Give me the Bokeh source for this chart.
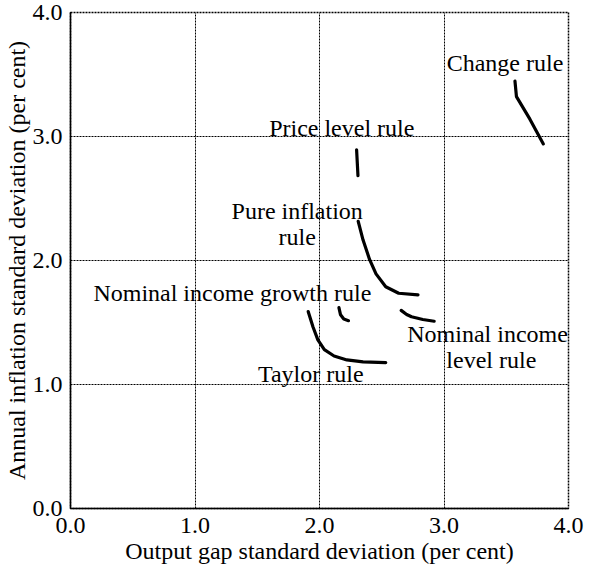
from bokeh.plotting import figure
from bokeh.models import FixedTicker, PrintfTickFormatter, ColumnDataSource, LabelSet
from bokeh.embed import file_html
from bokeh.resources import INLINE

# --- data ---
change_x = [3.570, 3.582, 3.690, 3.798]
change_y = [3.446, 3.322, 3.140, 2.940]

price_x = [2.298, 2.309]
price_y = [2.893, 2.685]

pure_x = [2.311, 2.350, 2.402, 2.454, 2.532, 2.636, 2.791]
pure_y = [2.316, 2.165, 2.009, 1.892, 1.788, 1.736, 1.723]

nig_x = [2.156, 2.169, 2.195, 2.233]
nig_y = [1.620, 1.562, 1.528, 1.515]

nil_x = [2.656, 2.700, 2.739, 2.830, 2.921]
nil_y = [1.598, 1.565, 1.546, 1.524, 1.510]

taylor_x = [1.909, 1.948, 1.987, 2.039, 2.117, 2.220, 2.350, 2.532]
taylor_y = [1.588, 1.464, 1.360, 1.281, 1.230, 1.198, 1.183, 1.177]

label_text = ["Change rule", "Price level rule", "Pure inflation", "rule",
              "Nominal income growth rule", "Nominal income", "level rule", "Taylor rule"]
label_x = [3.490, 2.179, 1.821, 1.821, 1.300, 3.350, 3.380, 1.930]
label_y = [3.594, 3.072, 2.402, 2.191, 1.739, 1.411, 1.201, 1.084]

ticks = [0, 1, 2, 3, 4]

FONT = "Liberation Serif"
FS = "24px"

p = figure(width=584, height=568, x_range=(0, 4), y_range=(0, 4),
           output_backend="svg", toolbar_location=None,
           min_border_left=60, min_border_right=16, min_border_top=12, min_border_bottom=60)

p.background_fill_color = "white"
p.border_fill_color = "white"
p.outline_line_color = "black"
p.outline_line_dash = "2 1"
p.outline_line_width = 1.5

for ax in (p.xaxis, p.yaxis):
    ax.ticker = FixedTicker(ticks=ticks)
    ax.formatter = PrintfTickFormatter(format="%.1f")
    ax.major_tick_line_color = None
    ax.minor_tick_line_color = None
    ax.major_tick_out = 0
    ax.major_tick_in = 0
    ax.axis_line_color = "black"
    ax.axis_line_width = 1.5
    ax.major_label_text_font = FONT
    ax.major_label_text_font_size = FS
    ax.major_label_text_color = "black"
    ax.axis_label_text_font = FONT
    ax.axis_label_text_font_size = FS
    ax.axis_label_text_font_style = "normal"
    ax.axis_label_text_color = "black"

p.xaxis.axis_label = "Output gap standard deviation (per cent)"
p.yaxis.axis_label = "Annual inflation standard deviation (per cent)"
p.xaxis.major_label_standoff = 9
p.yaxis.major_label_standoff = 8
p.xaxis.axis_label_standoff = 2
p.yaxis.axis_label_standoff = 0

for g in (p.xgrid, p.ygrid):
    g.ticker = FixedTicker(ticks=[1, 2, 3])
    g.grid_line_color = "black"
    g.grid_line_dash = "2 1"
    g.grid_line_width = 1

for xs, ys in [(change_x, change_y), (price_x, price_y), (pure_x, pure_y),
               (nig_x, nig_y), (nil_x, nil_y), (taylor_x, taylor_y)]:
    p.line(xs, ys, line_color="black", line_width=3.2, line_cap="round", line_join="round")

src = ColumnDataSource(dict(x=label_x, y=label_y, t=label_text))
labels = LabelSet(x="x", y="y", text="t", source=src, text_align="center",
                  text_baseline="middle", text_font=FONT, text_font_size=FS,
                  text_color="black")
p.add_layout(labels)

open("out.html", "w").write(file_html(p, INLINE))
